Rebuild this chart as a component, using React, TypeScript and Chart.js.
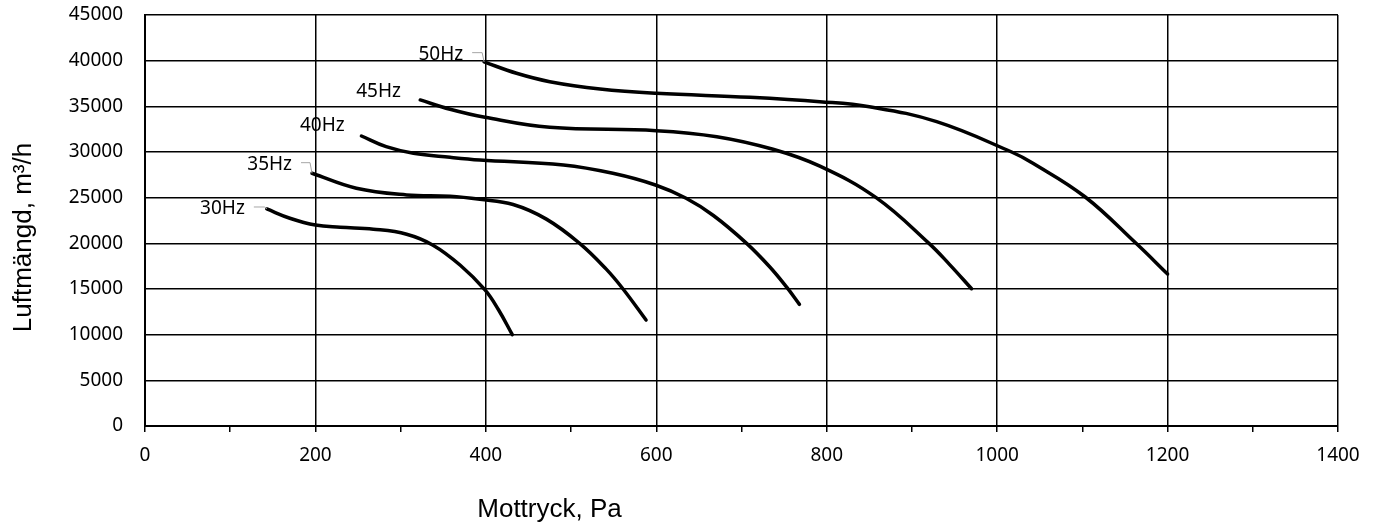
import { useEffect, useRef } from "react";
import { Chart, registerables } from "chart.js";

Chart.register(...registerables);

// ---- data (Mottryck Pa -> Luftmängd m³/h) ----
const seriesNames = ["30Hz", "35Hz", "40Hz", "45Hz", "50Hz"];

const pressure30 = [143, 170, 200, 229, 268, 307, 338, 370, 399, 415, 431];
const flow30 = [23760, 22750, 22000, 21760, 21550, 21000, 19800, 17600, 14900, 12700, 10000];

const pressure35 = [196, 248, 307, 358, 393, 432, 471, 510, 541, 561, 588];
const flow35 = [27670, 26030, 25300, 25150, 24820, 24250, 22650, 20000, 17200, 15000, 11600];

const pressure40 = [254, 283, 315, 358, 393, 491, 549, 599, 635, 667, 706, 733, 753, 768];
const flow40 = [31750, 30580, 29860, 29420, 29130, 28580, 27670, 26390, 24930, 23050, 20000, 17440, 15200, 13320];

const pressure45 = [323, 358, 399, 475, 600, 671, 737, 792, 858, 920, 944, 970];
const flow45 = [35700, 34680, 33800, 32700, 32340, 31680, 30300, 28450, 25000, 20000, 17700, 15030];

const pressure50 = [398, 436, 475, 534, 600, 710, 792, 850, 929, 1017, 1042, 1103, 1163, 1200];
const flow50 = [39860, 38620, 37700, 36900, 36430, 35990, 35510, 34960, 33320, 30000, 28770, 25100, 20000, 16640];

const pressures = [pressure30, pressure35, pressure40, pressure45, pressure50];
const flows = [flow30, flow35, flow40, flow45, flow50];

const xMin = 0;
const xMax = 1400;
const xStep = 100;
const xLabelStep = 200;
const yMin = 0;
const yMax = 45000;
const yStep = 5000;

const xTitle = "Mottryck, Pa";
const yTitle = "Luftmängd, m³/h";

// label placement relative to the first point of each curve (pixels)
const labelPlacement = [
  { dx: -22, dy: 0, leader: true },
  { dx: -20, dy: -8.6, leader: true },
  { dx: -16.7, dy: -10, leader: false },
  { dx: -19.3, dy: -8, leader: false },
  { dx: -21, dy: -7.3, leader: true },
];

const tickFont = "'Noto Sans', sans-serif";
const titleFont = "'Liberation Sans', Arial, sans-serif";

const labelPlugin = {
  id: "curveLabels",
  afterDatasetsDraw(chart: any) {
    const ctx = chart.ctx as CanvasRenderingContext2D;
    const area = chart.chartArea;
    ctx.save();
    ctx.font = `19px ${tickFont}`;
    ctx.textAlign = "right";
    ctx.textBaseline = "middle";
    ctx.fillStyle = "#000";
    chart.data.datasets.forEach((ds: any, i: number) => {
      const meta = chart.getDatasetMeta(i);
      const p = meta.data[0];
      if (!p) return;
      const o = labelPlacement[i];
      const rx = p.x + o.dx;
      const cy = p.y + o.dy;
      ctx.fillText(ds.label, rx, cy);
      if (o.leader) {
        ctx.strokeStyle = "#a6a6a6";
        ctx.lineWidth = 1;
        ctx.beginPath();
        ctx.moveTo(rx + 9, cy - 2);
        ctx.lineTo(p.x - 2, cy - 2);
        ctx.lineTo(p.x, p.y);
        ctx.stroke();
      }
    });
    // axis titles
    ctx.font = `26px ${titleFont}`;
    ctx.textAlign = "center";
    ctx.textBaseline = "alphabetic";
    ctx.fillStyle = "#000";
    ctx.fillText(xTitle, area.left + 404.5, area.bottom + 91);
    ctx.translate(31, area.top + 222.5);
    ctx.rotate(-Math.PI / 2);
    ctx.fillText(yTitle, 0, 0);
    ctx.restore();
  },
};

export default function App() {
  const canvasRef = useRef<HTMLCanvasElement | null>(null);

  useEffect(() => {
    if (!canvasRef.current) return;
    const datasets = seriesNames.map((name, i) => ({
      label: name,
      data: pressures[i].map((x, j) => ({ x, y: flows[i][j] })),
      borderColor: "#000",
      backgroundColor: "#000",
      borderWidth: 3.5,
      borderCapStyle: "round" as const,
      borderJoinStyle: "round" as const,
      pointRadius: 0,
      pointHoverRadius: 0,
      tension: 0.4,
      fill: false,
    }));

    const chart = new Chart(canvasRef.current, {
      type: "line",
      data: { datasets },
      options: {
        animation: false,
        responsive: true,
        maintainAspectRatio: false,
        layout: { padding: { top: 15, right: 37, left: 0, bottom: 0 } },
        plugins: {
          legend: { display: false },
          tooltip: { enabled: false },
        },
        scales: {
          x: {
            type: "linear",
            min: xMin,
            max: xMax,
            afterFit: (scale: any) => {
              scale.height = 100;
            },
            ticks: {
              stepSize: xStep,
              autoSkip: false,
              maxRotation: 0,
              padding: 12,
              color: "#000",
              font: { family: tickFont, size: 19 },
              callback: (v: any) => (Number(v) % xLabelStep === 0 ? String(v) : ""),
            },
            grid: {
              color: (c: any) =>
                c.tick && c.tick.value % xLabelStep === 0 ? "#000" : "rgba(0,0,0,0)",
              lineWidth: 1.5,
              tickColor: "#000",
              tickLength: 6,
              tickWidth: 1.5,
            },
            border: { display: true, color: "#000", width: 2 },
          },
          y: {
            type: "linear",
            min: yMin,
            max: yMax,
            afterFit: (scale: any) => {
              scale.width = 145;
            },
            ticks: {
              stepSize: yStep,
              padding: 2,
              color: "#000",
              font: { family: tickFont, size: 19 },
              callback: (v: any) => String(v),
            },
            grid: {
              color: "#000",
              lineWidth: 1.5,
              drawTicks: true,
              tickLength: 20,
              tickColor: "rgba(0,0,0,0)",
            },
            border: { display: true, color: "#000", width: 2 },
          },
        },
      },
      plugins: [labelPlugin],
    });
    return () => chart.destroy();
  }, []);

  return (
    <div style={{ position: "absolute", left: 0, top: 0, width: 1375, height: 526, background: "#fff" }}>
      <canvas ref={canvasRef} />
    </div>
  );
}
